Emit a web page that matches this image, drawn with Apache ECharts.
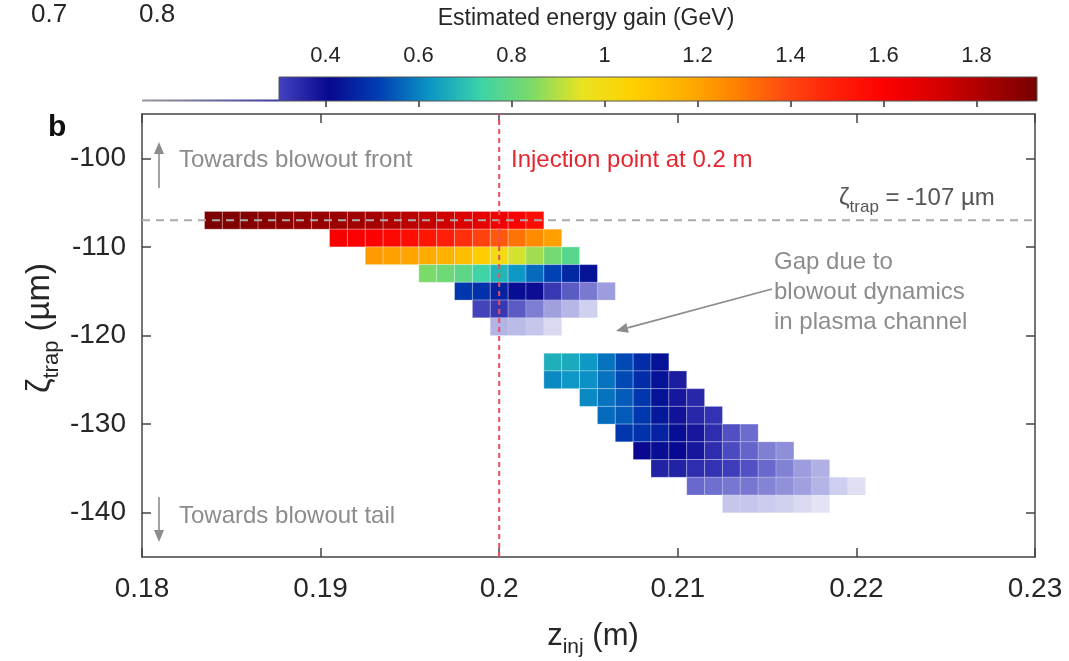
<!DOCTYPE html>
<html><head><meta charset="utf-8">
<script src="https://cdn.jsdelivr.net/npm/echarts@6/dist/echarts.min.js"></script>
<style>html,body{margin:0;padding:0;background:#fff}#c{width:1069px;height:661px}</style>
</head><body><div id="c"></div>
<script>
// ---- data ----
const zGrid = [0.184,0.185,0.186,0.187,0.188,0.189,0.190,0.191,0.192,0.193,0.194,0.195,0.196,0.197,0.198,0.199,
  0.200,0.201,0.202,0.203,0.204,0.205,0.206,0.207,0.208,0.209,0.210,0.211,0.212,0.213,0.214,0.215,0.216,0.217,0.218,0.219,0.220];
const zetaRows = [-107,-109,-111,-113,-115,-117,-119,-123,-125,-127,-129,-131,-133,-135,-137,-139];
const rowStart = [0.184,0.191,0.193,0.196,0.198,0.199,0.200,0.203,0.203,0.205,0.206,0.207,0.208,0.209,0.211,0.213];
const energyRows = [
  [1.92,1.91,1.90,1.89,1.88,1.87,1.86,1.85,1.84,1.83,1.80,1.78,1.76,1.73,1.70,1.67,1.64,1.60,1.56],
  [1.62,1.61,1.60,1.58,1.56,1.53,1.50,1.46,1.41,1.36,1.31,1.26,1.21],
  [1.22,1.21,1.20,1.18,1.16,1.12,1.07,1.00,0.93,0.88,0.83,0.78],
  [0.84,0.82,0.79,0.74,0.68,0.63,0.57,0.52,0.47,0.43],
  [0.50,0.49,0.46,0.42,0.40,0.34,0.32,0.31,0.30],
  [0.33,0.34,0.32,0.31,0.30,0.30,0.30],
  [0.30,0.30,0.30,0.30],
  [0.67,0.66,0.63,0.58,0.53,0.48,0.43],
  [0.61,0.63,0.62,0.58,0.53,0.48,0.43,0.37],
  [0.61,0.58,0.55,0.50,0.43,0.38,0.35],
  [0.57,0.55,0.50,0.44,0.39,0.35,0.33],
  [0.50,0.49,0.46,0.42,0.38,0.34,0.31,0.30],
  [0.41,0.42,0.41,0.38,0.34,0.31,0.30,0.30,0.30],
  [0.36,0.36,0.34,0.33,0.31,0.30,0.30,0.30,0.30,0.30],
  [0.30,0.30,0.30,0.30,0.30,0.30,0.30,0.30,0.30,0.30],
  [0.30,0.30,0.30,0.30,0.30,0.30]
];
// relative charge weight of each cell (shown as opacity)
const weightRows = [
  [1,1,1,1,1,1,1,1,1,1,1,1,1,1,1,1,1,1,1],
  [1,1,1,1,1,1,1,1,1,1,1,1,1],
  [1,1,1,1,1,1,1,1,1,1,1,1],
  [1,1,1,1,1,1,1,1,1,1],
  [1,1,1,1,1,0.95,0.82,0.69,0.52],
  [0.92,0.95,0.82,0.67,0.50,0.38,0.25],
  [0.40,0.36,0.30,0.20],
  [1,1,1,1,1,1,1],
  [1,1,1,1,1,1,1,1],
  [1,1,1,1,1,1,1],
  [1,1,1,1,1,1,1],
  [1,1,1,1,1,1,0.90,0.78],
  [1,1,1,1,1,0.93,0.82,0.68,0.60],
  [1,1,1,1,1,0.92,0.80,0.66,0.52,0.42],
  [0.80,0.76,0.72,0.72,0.65,0.58,0.50,0.40,0.26,0.17],
  [0.30,0.30,0.27,0.25,0.20,0.15]
];
const cellW = 0.001, cellH = 2;          // bin size (m, µm)
const xTicks = [0.18,0.19,0.2,0.21,0.22,0.23];
const yTicks = [-140,-130,-120,-110,-100];
const cbTicks = [0.4,0.6,0.8,1,1.2,1.4,1.6,1.8];
const cbMin = 0.3, cbMax = 1.93;
const colormap = ['#4242c0','#080890','#0040b4','#0c96c6','#3cd4a8','#7cda68','#e8e420','#ffd000',
  '#ffb000','#ff8400','#ff4a10','#ff2008','#fc0000','#d80000','#a80000','#780000'];
const trapZeta = -107, injectionZ = 0.2;

// ---- build ----
const cells = [];
zetaRows.forEach((y, r) => {
  const i0 = zGrid.indexOf(rowStart[r]);
  energyRows[r].forEach((e, i) => cells.push([zGrid[i0 + i], y, e, weightRows[r][i]]));
});

const FONT = "'Liberation Sans', Arial, Helvetica, sans-serif";
const axisCol = '#444';
const chart = echarts.init(document.getElementById('c'));

function arrow(x1, y1, x2, y2, col) {
  const dx = x2 - x1, dy = y2 - y1, L = Math.hypot(dx, dy), ux = dx / L, uy = dy / L;
  const hl = 12, hw = 5, bx = x2 - ux * hl, by = y2 - uy * hl;
  return [
    {type:'line', shape:{x1, y1, x2:bx, y2:by}, style:{stroke:col, lineWidth:1.6}},
    {type:'polygon', shape:{points:[[x2,y2],[bx - uy*hw, by + ux*hw],[bx + uy*hw, by - ux*hw]]}, style:{fill:col}}
  ];
}
const gray = '#8c8c8c';
const txt = (x, y, text, o) => Object.assign({type:'text', x, y, style:Object.assign({text, fill:gray, font:`24px ${FONT}`, textVerticalAlign:'middle'}, o||{})});

const option = {
  animation:false,
  textStyle:{fontFamily:FONT},
  grid:[
    {left:142, right:34, top:114, bottom:104},
    {left:279, width:758, top:77, height:24}
  ],
  xAxis:[
    {type:'value', gridIndex:0, min:0.18, max:0.23, position:'bottom',
      axisLine:{lineStyle:{color:axisCol, width:1.5}},
      axisTick:{inside:true, length:9, customValues:xTicks, lineStyle:{color:axisCol, width:1.5}},
      axisLabel:{customValues:xTicks, fontSize:28, color:'#262626', margin:18, fontFamily:FONT},
      splitLine:{show:false}},
    {type:'value', gridIndex:0, min:0.18, max:0.23, position:'top',
      axisLine:{lineStyle:{color:axisCol, width:1.5}},
      axisTick:{inside:true, length:9, customValues:xTicks, lineStyle:{color:axisCol, width:1.5}},
      axisLabel:{show:false}, splitLine:{show:false}},
    {type:'value', gridIndex:1, min:cbMin, max:cbMax, position:'top',
      axisLine:{show:false},
      axisTick:{inside:true, length:6, customValues:cbTicks, lineStyle:{color:'#333', width:1.5}},
      axisLabel:{customValues:cbTicks, fontSize:22, color:'#262626', margin:10, fontFamily:FONT},
      splitLine:{show:false}}
  ],
  yAxis:[
    {type:'value', gridIndex:0, min:-145, max:-95, position:'left',
      axisLine:{lineStyle:{color:axisCol, width:1.5}},
      axisTick:{inside:true, length:9, customValues:yTicks, lineStyle:{color:axisCol, width:1.5}},
      axisLabel:{customValues:yTicks, fontSize:28, color:'#262626', margin:16, fontFamily:FONT},
      splitLine:{show:false}},
    {type:'value', gridIndex:0, min:-145, max:-95, position:'right',
      axisLine:{lineStyle:{color:axisCol, width:1.5}},
      axisTick:{inside:true, length:9, customValues:yTicks, lineStyle:{color:axisCol, width:1.5}},
      axisLabel:{show:false}, splitLine:{show:false}},
    {type:'value', gridIndex:1, min:0, max:1, show:false}
  ],
  visualMap:[{type:'continuous', show:false, seriesIndex:0, dimension:2, min:cbMin, max:cbMax, inRange:{color:colormap}}],
  series:[
    {type:'custom', xAxisIndex:0, yAxisIndex:0, data:cells, z:2,
      encode:{x:0, y:1},
      renderItem(params, api){
        const x = api.value(0), y = api.value(1);
        const p0 = api.coord([x - cellW/2, y + cellH/2]);
        const p1 = api.coord([x + cellW/2, y - cellH/2]);
        return {type:'rect', shape:{x:p0[0], y:p0[1], width:p1[0]-p0[0], height:p1[1]-p0[1]},
          style:{fill:api.visual('color'), opacity:api.value(3), stroke:'rgba(255,255,255,0.35)', lineWidth:0.8}};
      }},
    {type:'line', xAxisIndex:0, yAxisIndex:0, z:5, symbol:'none', silent:true,
      data:[[0.18, trapZeta],[0.23, trapZeta]],
      lineStyle:{color:'#ababab', width:2, type:[8,6]}},
    {type:'line', xAxisIndex:0, yAxisIndex:0, z:5, symbol:'none', silent:true,
      data:[[injectionZ, -145],[injectionZ, -95]],
      lineStyle:{color:'#e8505e', width:2, type:[5,4]}},
    {type:'custom', xAxisIndex:2, yAxisIndex:2, data:[[cbMin, cbMax]], encode:{x:[0,1]},
      renderItem(params, api){
        const p0 = api.coord([api.value(0), 1]), p1 = api.coord([api.value(1), 0]);
        const stops = colormap.map((c, i) => ({offset:i/(colormap.length-1), color:c}));
        return {type:'rect', shape:{x:p0[0], y:p0[1], width:p1[0]-p0[0], height:p1[1]-p0[1]},
          style:{fill:new echarts.graphic.LinearGradient(0,0,1,0,stops), stroke:'#555', lineWidth:1}};
      }}
  ],
  graphic:[
    {type:'line', shape:{x1:142, y1:100.5, x2:279, y2:100.5},
      style:{stroke:new echarts.graphic.LinearGradient(0,0,1,0,[{offset:0,color:'#9a9a9a'},{offset:1,color:'#3a3a9a'}]), lineWidth:2}},
    txt(31, 15, '0.7', {fill:'#262626', font:`26px ${FONT}`}),
    txt(139, 15, '0.8', {fill:'#262626', font:`26px ${FONT}`}),
    {type:'text', x:586, y:19, style:{text:'Estimated energy gain (GeV)', fill:'#262626', font:`23px ${FONT}`, textAlign:'center', textVerticalAlign:'middle'}},
    txt(48, 128, 'b', {fill:'#111', font:`bold 30px ${FONT}`}),
    txt(179, 160, 'Towards blowout front'),
    txt(179, 516, 'Towards blowout tail'),
    txt(511, 160, 'Injection point at 0.2 m', {fill:'#e3262f'}),
    txt(774, 262, 'Gap due to'),
    txt(774, 292, 'blowout dynamics'),
    txt(774, 322, 'in plasma channel'),
    {type:'text', x:839, y:198, style:{text:'{a|ζ}{s|trap}{a| = -107 µm}', fill:'#555', textVerticalAlign:'middle',
      rich:{a:{fontSize:24, fontFamily:FONT, lineHeight:36, fill:'#555'}, s:{fontSize:17, fontFamily:FONT, verticalAlign:'bottom', lineHeight:17, fill:'#555'}}}},
    {type:'text', x:593, y:636, style:{text:'{a|z}{s|inj}{a| (m)}', fill:'#262626', textAlign:'center', textVerticalAlign:'middle',
      rich:{a:{fontSize:31, fontFamily:FONT, lineHeight:44, fill:'#262626'}, s:{fontSize:21, fontFamily:FONT, verticalAlign:'bottom', lineHeight:21, fill:'#262626'}}}},
    {type:'text', x:40, y:328, rotation:Math.PI/2, style:{text:'{a|ζ}{s|trap}{a| (µm)}', fill:'#262626', textAlign:'center', textVerticalAlign:'middle',
      rich:{a:{fontSize:33, fontFamily:FONT, lineHeight:46, fill:'#262626'}, s:{fontSize:22, fontFamily:FONT, verticalAlign:'bottom', lineHeight:22, fill:'#262626'}}}},
    ...arrow(159, 188, 159, 142, gray),
    ...arrow(159, 497, 159, 542, gray),
    ...arrow(772, 289, 616, 331, gray)
  ]
};
chart.setOption(option);
</script></body></html>
